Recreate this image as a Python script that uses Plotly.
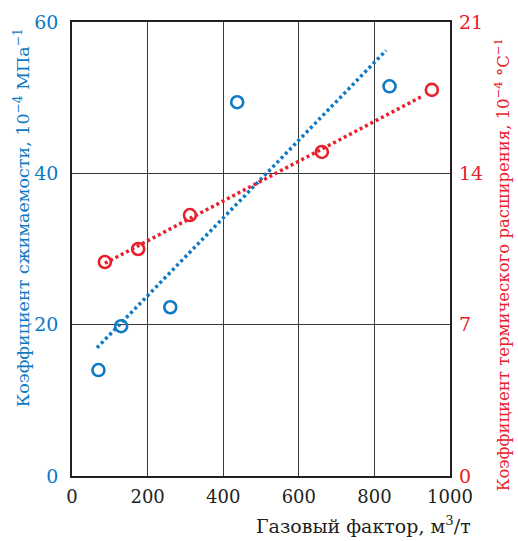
import numpy as np
import plotly.graph_objects as go

# Data
gas_factor_c = [70, 130, 260, 437, 840]          # m3/t
compressibility = [14.0, 19.8, 22.3, 49.4, 51.5]  # 10^-4 MPa^-1
gas_factor_t = [87, 175, 312, 661, 952]          # m3/t
thermal_exp = [9.9, 10.5, 12.07, 14.99, 17.86]    # 10^-4 °C^-1

trend_range_c = [66, 831]
trend_range_t = [87, 925]

x_ticks = [0, 200, 400, 600, 800, 1000]
y_left_ticks = [0, 20, 40, 60]
y_right_ticks = [0, 7, 14, 21]

BLUE = "#0b79c4"
RED = "#e8202c"
FONT = "DejaVu Serif"

pc = np.polyfit(gas_factor_c, compressibility, 1)
pt = np.polyfit(gas_factor_t, thermal_exp, 1)
tc_x = np.array(trend_range_c, dtype=float)
tt_x = np.array(trend_range_t, dtype=float)

fig = go.Figure()
fig.add_trace(go.Scatter(x=tc_x, y=np.polyval(pc, tc_x), mode="lines",
                         line=dict(color=BLUE, width=3.5, dash="3px,3px"),
                         showlegend=False, hoverinfo="skip"))
fig.add_trace(go.Scatter(x=tt_x, y=np.polyval(pt, tt_x), mode="lines", yaxis="y2",
                         line=dict(color=RED, width=3.5, dash="3px,3px"),
                         showlegend=False, hoverinfo="skip"))
fig.add_trace(go.Scatter(x=gas_factor_c, y=compressibility, mode="markers",
                         marker=dict(symbol="circle-open", size=12, color=BLUE,
                                     line=dict(width=2.6, color=BLUE)),
                         showlegend=False))
fig.add_trace(go.Scatter(x=gas_factor_t, y=thermal_exp, mode="markers", yaxis="y2",
                         marker=dict(symbol="circle-open", size=12, color=RED,
                                     line=dict(width=2.6, color=RED)),
                         showlegend=False))

fig.update_layout(
    width=518, height=541,
    margin=dict(l=72, r=68, t=22, b=65),
    paper_bgcolor="white", plot_bgcolor="white",
    font=dict(family=FONT, size=19, color="#231f20"),
    xaxis=dict(range=[0, 1000], tickvals=x_ticks, showgrid=True,
               gridcolor="#3a3a3a", gridwidth=1.3, zeroline=False,
               showline=True, linecolor="#231f20", linewidth=1.5, mirror=True,
               ticks="", ticklabelstandoff=4,
               tickfont=dict(family=FONT, size=18, color="#231f20")),
    yaxis=dict(range=[0, 60], tickvals=y_left_ticks, showgrid=True,
               gridcolor="#3a3a3a", gridwidth=1.3, zeroline=False,
               showline=True, linecolor="#231f20", linewidth=1.5, mirror=True,
               ticks="", ticklabelstandoff=8,
               tickfont=dict(family=FONT, size=19, color=BLUE)),
    yaxis2=dict(range=[0, 21], tickvals=y_right_ticks, overlaying="y", side="right",
                showgrid=False, zeroline=False, showline=False, ticks="",
                ticklabelstandoff=8,
                tickfont=dict(family=FONT, size=19, color=RED)),
    annotations=[
        dict(text="Газовый фактор, м<sup>3</sup>/т", xref="paper", yref="paper",
             x=1.061, y=-0.108, xanchor="right", yanchor="middle", showarrow=False,
             font=dict(family=FONT, size=19, color="#231f20")),
        dict(text="Коэффициент сжимаемости, 10<sup>−4</sup> МПа<sup>−1</sup>",
             xref="paper", yref="paper", x=-0.132, y=0.568, textangle=-90,
             xanchor="center", yanchor="middle", showarrow=False,
             font=dict(family=FONT, size=17.5, color=BLUE)),
        dict(text="Коэффициент термического расширения, 10<sup>−4</sup> °C<sup>−1</sup>",
             xref="paper", yref="paper", x=1.140, y=0.466, textangle=-90,
             xanchor="center", yanchor="middle", showarrow=False,
             font=dict(family=FONT, size=16.5, color=RED)),
    ],
)

fig.write_html("out.html")
